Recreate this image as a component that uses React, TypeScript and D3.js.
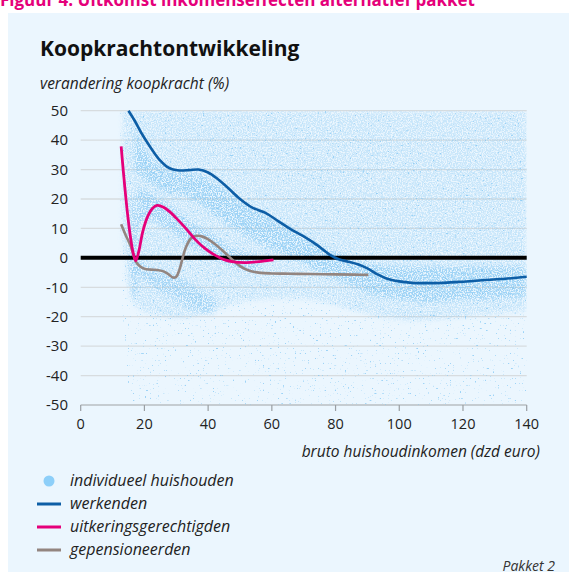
import React from 'react';
import * as d3 from 'd3';

// ---------- data ----------
const xTicks = [0, 20, 40, 60, 80, 100, 120, 140];
const yTicks = [-50, -40, -30, -20, -10, 0, 10, 20, 30, 40, 50];

const werkIncome = [15, 17, 19, 21, 23, 25, 27, 29, 31, 34, 37, 40, 43, 46, 50, 54, 58, 62, 66, 70, 74, 78, 81, 84, 87, 90, 93, 96, 100, 104, 108, 114, 120, 126, 132, 140];
const werkValue = [50, 46.5, 42.5, 39, 35.8, 33, 31, 30, 29.7, 29.8, 30, 29, 26.8, 24, 20, 17, 15.3, 12.5, 9.7, 7.3, 4.5, 1.2, -0.5, -1.3, -2.2, -3.6, -5.5, -7, -8, -8.5, -8.6, -8.5, -8.1, -7.6, -7.2, -6.4];

const uitkIncome = [12.7, 13.5, 14.5, 15.5, 16.5, 17.3, 18.2, 19.5, 21, 22.5, 24, 26, 28, 30, 33, 36, 39, 42, 45, 48, 52, 56, 60.5];
const uitkValue = [37.9, 28, 17, 8, 1.5, -1, 2, 9, 14, 16.8, 17.8, 17.2, 15.6, 13.5, 10, 6.2, 3.2, 1, -0.6, -1.4, -1.6, -1.3, -0.7];

const pensIncome = [12.7, 14, 15.7, 17.2, 18.5, 20, 22, 24, 26, 27.5, 29, 30, 31, 32, 33, 34.5, 36, 38, 40, 42, 44.5, 47, 50, 53, 56.5, 60, 66, 72, 80, 86, 90.3];
const pensValue = [11.4, 8, 4, -1, -2.8, -3.7, -4, -4.1, -4.6, -5.5, -6.7, -6.4, -4, 0, 3.5, 6.5, 7.4, 7.3, 6.3, 4.8, 2.5, 0, -2.8, -4.4, -5.1, -5.3, -5.4, -5.5, -5.6, -5.7, -5.8];

// household cloud, described as density bands (income, upper, lower)
const sparseIncome = [12.5, 14, 16, 18, 25, 40, 60, 80, 100, 120, 140];
const sparseHigh = [50, 50, 50, 50, 50, 50, 50, 50, 50, 50, 50];
const sparseLow = [-2, -30, -48, -50, -50, -50, -50, -50, -50, -50, -50];

const mainIncome = [13.2, 14.5, 16, 18, 22, 28, 35, 42, 50, 60, 70, 80, 90, 100, 110, 120, 130, 140];
const mainHigh = [50, 50, 50, 50, 50, 50, 50, 50, 50, 50, 50, 50, 50, 50, 50, 50, 50, 50];
const mainLow = [8, -5, -14, -17, -19, -20, -20, -18, -15, -14, -14, -16, -19, -21, -21, -20, -19, -18];

const workBandIncome = [17, 20, 24, 28, 33, 38, 43, 48, 54, 60, 66, 72, 78, 84, 90, 100, 110, 120, 130, 140];
const workBandHigh = [45, 37, 32, 29.5, 29, 28, 25, 21, 17, 13, 10, 6, 3, 0, -2, -3, -3, -3, -3, -3];
const workBandLow = [30, 27, 24, 22, 21, 18, 14, 10, 6, 3, 0, -3, -6, -9, -12, -14, -15, -14, -14, -13];

const uitkBandIncome = [18, 22, 26, 30, 35, 40, 45, 50, 56];
const uitkBandHigh = [24, 22, 19, 16, 12, 9, 5, 2, 0];
const uitkBandLow = [12, 13, 11, 8, 4, 1, -2, -4, -5];

const lowBandIncome = [16, 19, 23, 27, 31, 35, 39, 42];
const lowBandHigh = [0, -2, -4, -5, -7, -9, -12, -14];
const lowBandLow = [-4, -7, -10, -12.5, -15, -17, -19, -19];

const streakIncome = [15.6, 16.4, 17.2, 18];
const streakHigh = [20, 22, 18, 10];
const streakLow = [-8, -14, -12, -6];

// ---------- styling ----------
const W = 569;
const H = 572;
const FONT = "'Open Sans', 'Noto Sans', sans-serif";
const C_WERK = '#0d5ea6';
const C_UITK = '#e5007a';
const C_PENS = '#938580';
const C_DOT = '#7cc4f3';

export default function App() {
  const x = d3.scaleLinear().domain([0, 140]).range([80.7, 526.7]);
  const y = d3.scaleLinear().domain([-50, 50]).range([405, 110.7]);

  const line = (xs: number[], ys: number[]) =>
    d3
      .line<number>()
      .x((_, i) => x(xs[i]))
      .y((d) => y(d))
      .curve(d3.curveCatmullRom.alpha(0.5))(ys) || '';

  const band = (xs: number[], hi: number[], lo: number[]) =>
    d3
      .area<number>()
      .x((_, i) => x(xs[i]))
      .y0((_, i) => y(lo[i]))
      .y1((_, i) => y(hi[i]))
      .curve(d3.curveCatmullRom.alpha(0.5))(xs) || '';

  const legend = [
    { label: 'werkenden', color: C_WERK },
    { label: 'uitkeringsgerechtigden', color: C_UITK },
    { label: 'gepensioneerden', color: C_PENS },
  ];

  return (
    <svg
      width={W}
      height={H}
      style={{ position: 'absolute', left: 0, top: 0, background: '#fff' }}
      fontFamily={FONT}
    >
      <defs>
        <clipPath id="plotClip">
          <rect x={x(0)} y={y(50)} width={x(140) - x(0)} height={y(-50) - y(50)} />
        </clipPath>
        <filter id="speckSparse" filterUnits="userSpaceOnUse" x="0" y="0" width={W} height={H}>
          <feTurbulence type="fractalNoise" baseFrequency="0.6" numOctaves="1" seed="11" result="noise" />
          <feColorMatrix
            in="noise"
            type="matrix"
            values="0 0 0 0 0  0 0 0 0 0  0 0 0 0 0  14 0 0 0 -9.6"
            result="mask"
          />
          <feComposite in="SourceGraphic" in2="mask" operator="in" />
        </filter>
        <filter id="speckDense" filterUnits="userSpaceOnUse" x="0" y="0" width={W} height={H}>
          <feGaussianBlur in="SourceGraphic" stdDeviation="2.5" result="blur" />
          <feTurbulence type="fractalNoise" baseFrequency="0.8" numOctaves="2" seed="3" result="noise" />
          <feColorMatrix
            in="noise"
            type="matrix"
            values="0 0 0 0 0  0 0 0 0 0  0 0 0 0 0  4.5 0 0 0 -1.6"
            result="mask"
          />
          <feComposite in="blur" in2="mask" operator="in" />
        </filter>
      </defs>

      {/* panel */}
      <rect x={8} y={13} width={W - 8} height={H - 13} fill="#ebf6fe" />
      <text x={0} y={6} fill="#e5007a" fontWeight={700} fontSize={17}>
        Figuur 4: Uitkomst inkomenseffecten alternatief pakket
      </text>

      {/* titles */}
      <text x={40} y={56} fontSize={21} fontWeight={700} fill="#111">
        Koopkrachtontwikkeling
      </text>
      <text x={40} y={89} fontSize={15.5} fontStyle="italic" fill="#222">
        verandering koopkracht (%)
      </text>

      {/* grid */}
      {yTicks.map((t) => (
        <g key={t}>
          {t !== -50 && (
            <line x1={x(0)} x2={x(140)} y1={y(t)} y2={y(t)} stroke="#d7dcdf" strokeWidth={1.3} />
          )}
          <text x={68} y={y(t)} dy="0.35em" textAnchor="end" fontSize={15} fill="#222">
            {t}
          </text>
        </g>
      ))}
      <line x1={x(0)} x2={x(140)} y1={y(-50)} y2={y(-50)} stroke="#b9bec2" strokeWidth={1.3} />
      {xTicks.map((t) => (
        <g key={t}>
          <line x1={x(t)} x2={x(t)} y1={y(-50)} y2={y(-50) + 6} stroke="#9a9fa3" strokeWidth={1.2} />
          <text x={x(t)} y={429} textAnchor="middle" fontSize={14.5} fill="#222">
            {t}
          </text>
        </g>
      ))}
      <text x={540} y={457} textAnchor="end" fontSize={15.5} fontStyle="italic" fill="#222">
        bruto huishoudinkomen (dzd euro)
      </text>

      {/* household cloud */}
      <g clipPath="url(#plotClip)">
        <path d={band(sparseIncome, sparseHigh, sparseLow)} fill={C_DOT} fillOpacity={0.7} filter="url(#speckSparse)" />
        <g filter="url(#speckDense)">
          <path d={band(mainIncome, mainHigh, mainLow)} fill={C_DOT} fillOpacity={0.32} />
          <path d={band(workBandIncome, workBandHigh, workBandLow)} fill={C_DOT} fillOpacity={0.55} />
          <path d={band(uitkBandIncome, uitkBandHigh, uitkBandLow)} fill={C_DOT} fillOpacity={0.5} />
          <path d={band(lowBandIncome, lowBandHigh, lowBandLow)} fill={C_DOT} fillOpacity={0.45} />
          <path d={band(streakIncome, streakHigh, streakLow)} fill={C_DOT} fillOpacity={0.4} />
        </g>
      </g>

      {/* zero line */}
      <line x1={x(0)} x2={x(140)} y1={y(0)} y2={y(0)} stroke="#000" strokeWidth={4} />

      {/* group lines */}
      <path d={line(pensIncome, pensValue)} fill="none" stroke={C_PENS} strokeWidth={2.6} />
      <path d={line(uitkIncome, uitkValue)} fill="none" stroke={C_UITK} strokeWidth={2.8} />
      <path d={line(werkIncome, werkValue)} fill="none" stroke={C_WERK} strokeWidth={2.6} />

      {/* legend */}
      <circle cx={49} cy={481} r={5.5} fill="#8dcff9" />
      <text x={70} y={486} fontSize={16} fontStyle="italic" fill="#222">
        individueel huishouden
      </text>
      {legend.map((l, i) => (
        <g key={l.label}>
          <line x1={37} x2={61} y1={504 + i * 23} y2={504 + i * 23} stroke={l.color} strokeWidth={3} />
          <text x={70} y={509 + i * 23} fontSize={16} fontStyle="italic" fill="#222">
            {l.label}
          </text>
        </g>
      ))}
      <text x={555} y={571} textAnchor="end" fontSize={14} fontStyle="italic" fill="#333">
        Pakket 2
      </text>
    </svg>
  );
}
